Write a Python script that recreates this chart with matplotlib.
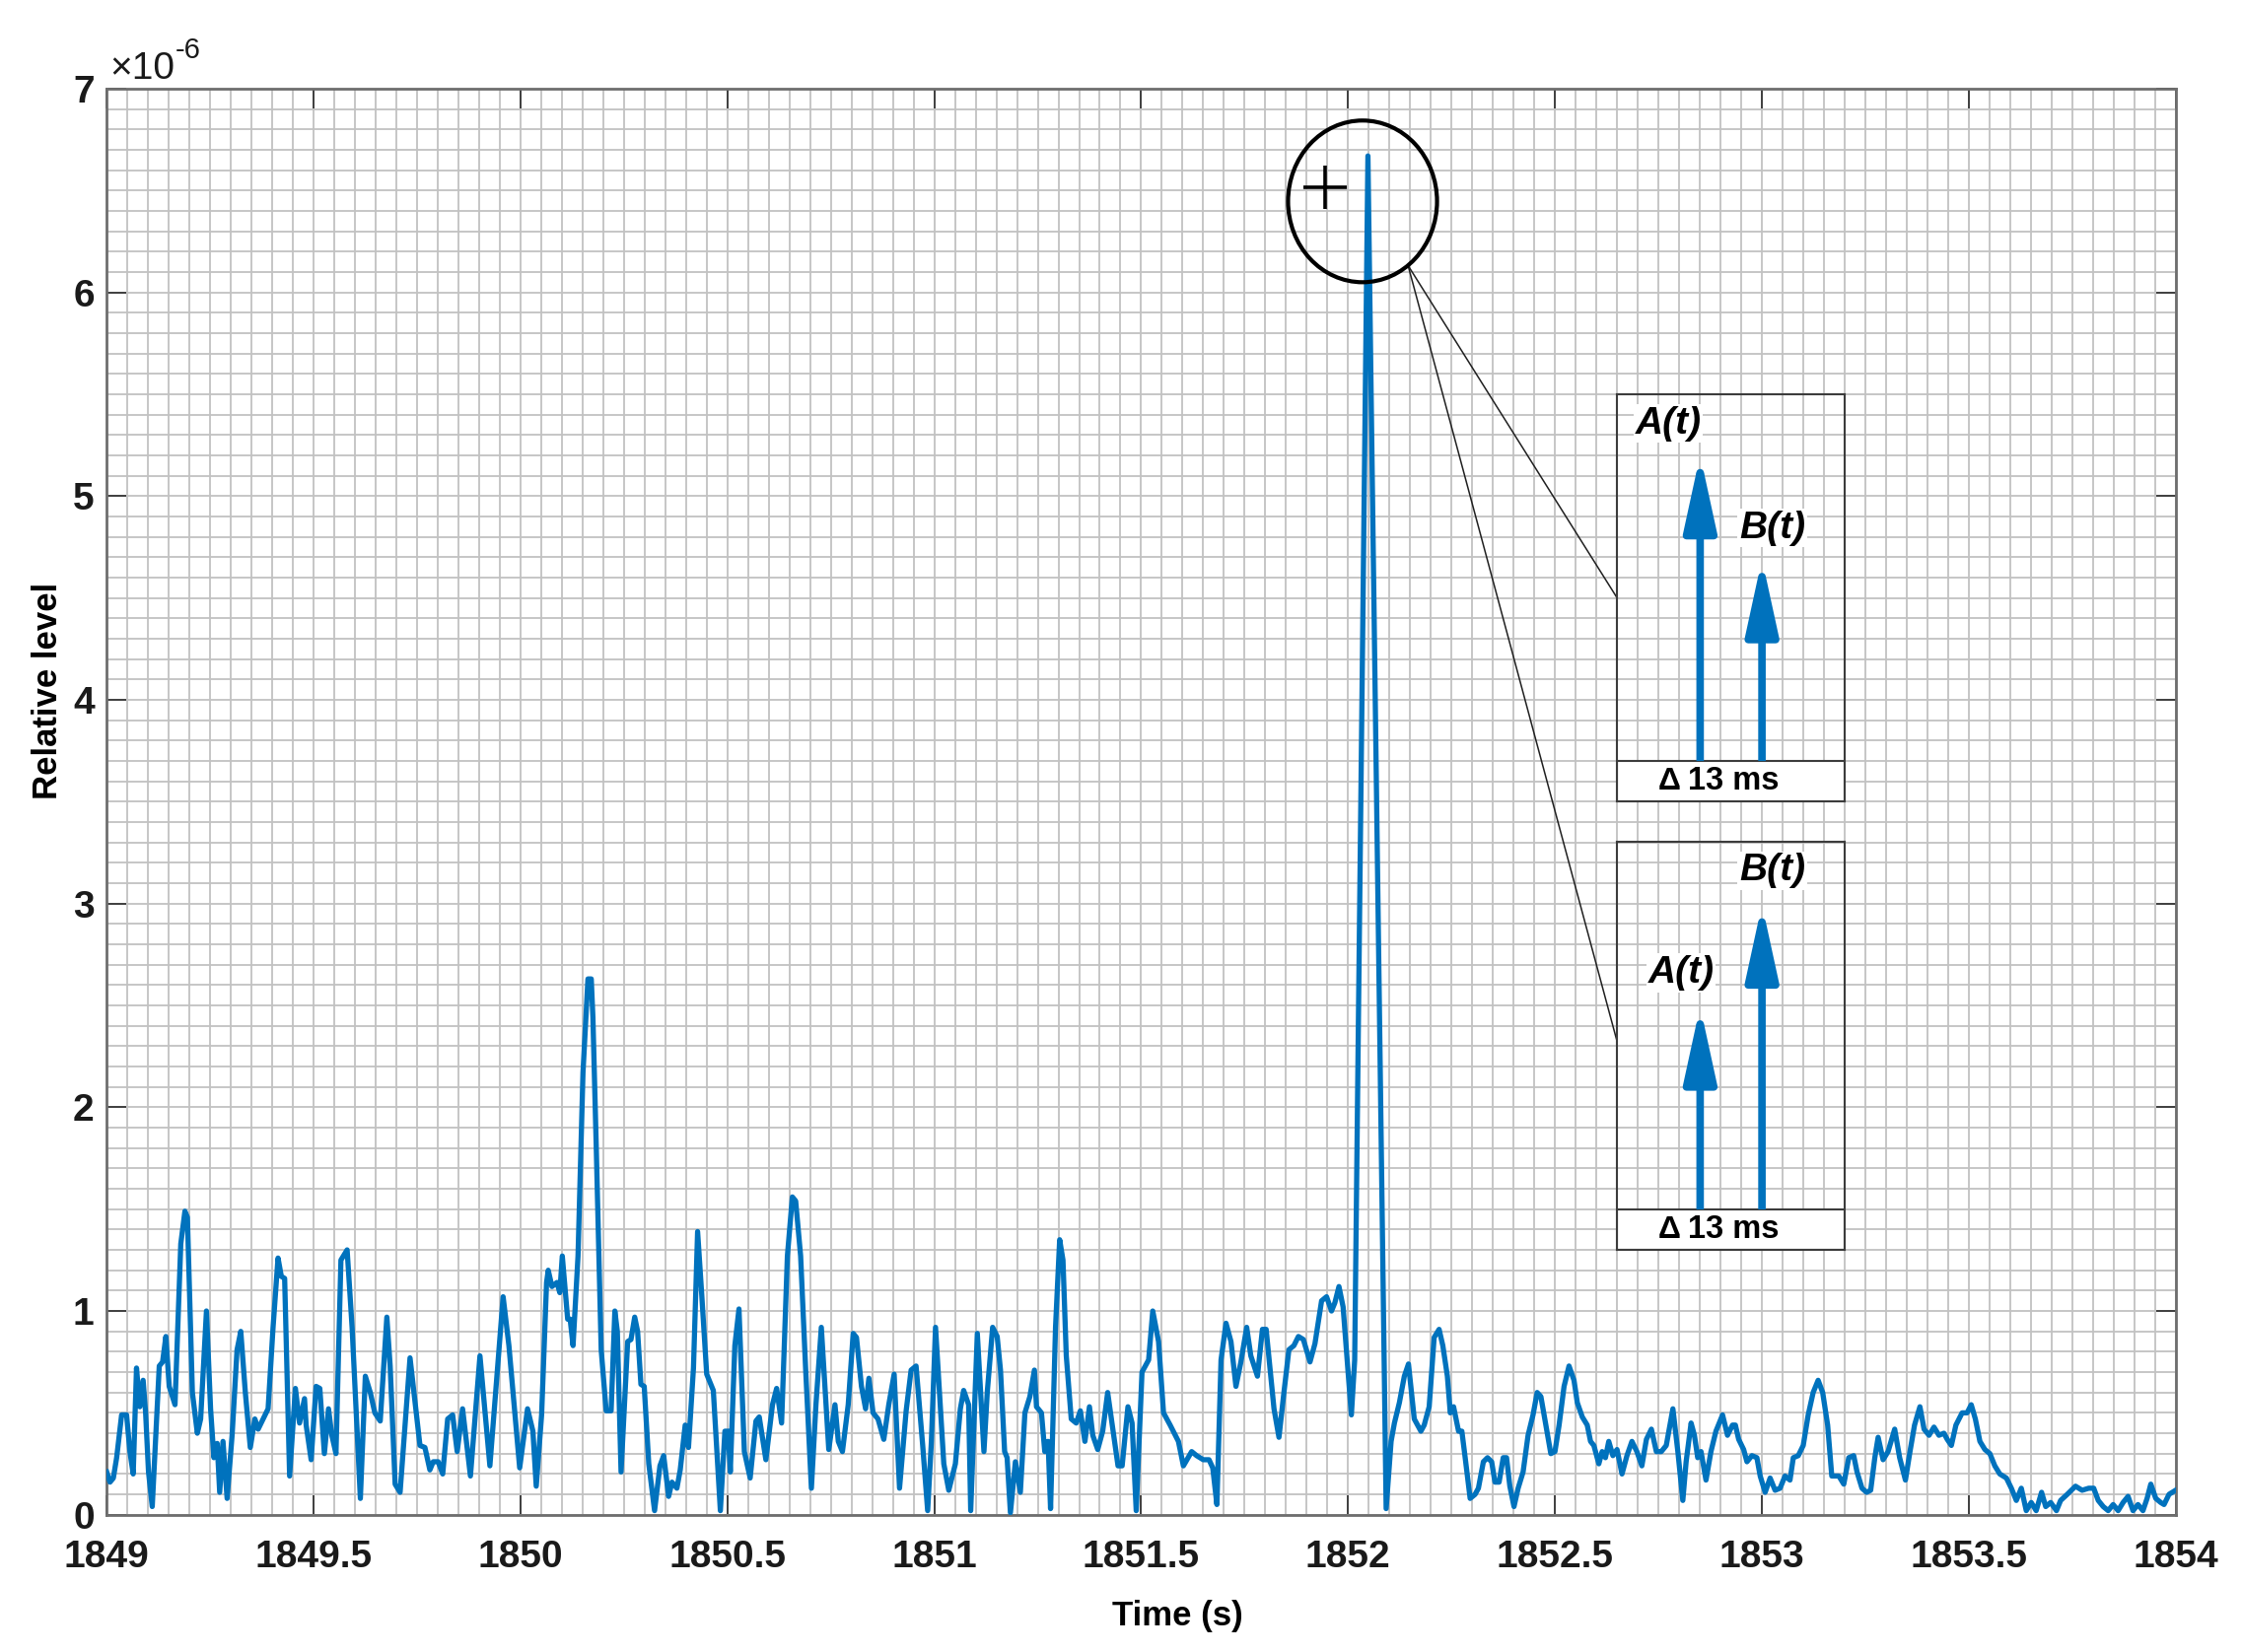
import matplotlib
matplotlib.use("Agg")
import matplotlib.pyplot as plt
from matplotlib.patches import Ellipse, Rectangle, FancyArrowPatch
from matplotlib.ticker import MultipleLocator
import numpy as np

plt.rcParams['font.family'] = ['Liberation Sans', 'DejaVu Sans']

# ---------------- data (level in 1e-6) -------------
t_a = [1849.000, 1849.008, 1849.016, 1849.024, 1849.036, 1849.048, 1849.056, 1849.064,
       1849.072, 1849.080, 1849.088, 1849.094, 1849.101, 1849.110, 1849.127, 1849.135,
       1849.143, 1849.151, 1849.165, 1849.179, 1849.189, 1849.195, 1849.207, 1849.219,
       1849.227, 1849.241, 1849.251, 1849.259, 1849.267, 1849.273, 1849.281, 1849.291,
       1849.303, 1849.315, 1849.324, 1849.335, 1849.347, 1849.358, 1849.366, 1849.378,
       1849.390, 1849.402, 1849.414, 1849.422, 1849.430, 1849.442, 1849.456, 1849.466,
       1849.478, 1849.482, 1849.494, 1849.506, 1849.515, 1849.526, 1849.536, 1849.544,
       1849.554, 1849.566, 1849.581, 1849.593, 1849.613, 1849.625, 1849.637, 1849.648,
       1849.661, 1849.677, 1849.685, 1849.697, 1849.709, 1849.733, 1849.757, 1849.769,
       1849.781, 1849.789, 1849.801, 1849.812, 1849.824, 1849.836, 1849.847, 1849.860,
       1849.879, 1849.902, 1849.926, 1849.958, 1849.972, 1849.998, 1850.017, 1850.030,
       1850.038, 1850.051, 1850.063]
v_a = [0.21, 0.16, 0.18, 0.28, 0.49, 0.49, 0.31, 0.20,
       0.72, 0.53, 0.66, 0.50, 0.21, 0.04, 0.73, 0.75,
       0.875, 0.63, 0.54, 1.33, 1.49, 1.46, 0.60, 0.40,
       0.47, 1.00, 0.52, 0.28, 0.35, 0.11, 0.36, 0.08,
       0.39, 0.81, 0.90, 0.60, 0.33, 0.47, 0.42, 0.47,
       0.52, 0.92, 1.26, 1.17, 1.16, 0.19, 0.62, 0.45,
       0.57, 0.44, 0.27, 0.63, 0.62, 0.30, 0.52, 0.39,
       0.30, 1.25, 1.30, 0.92, 0.08, 0.68, 0.60, 0.50,
       0.46, 0.97, 0.73, 0.15, 0.11, 0.77, 0.34, 0.33,
       0.22, 0.26, 0.26, 0.20, 0.47, 0.49, 0.31, 0.52,
       0.19, 0.78, 0.24, 1.07, 0.83, 0.23, 0.52, 0.41,
       0.14, 0.49, 1.14]

t_b = [1850.067, 1850.076, 1850.088, 1850.095, 1850.101, 1850.114, 1850.120, 1850.127,
       1850.139, 1850.151, 1850.163, 1850.171, 1850.175, 1850.183, 1850.195, 1850.207,
       1850.219, 1850.228, 1850.234, 1850.243, 1850.259, 1850.267, 1850.276, 1850.283,
       1850.291, 1850.299, 1850.310, 1850.324, 1850.337, 1850.346, 1850.358, 1850.366,
       1850.378, 1850.386, 1850.398, 1850.406, 1850.418, 1850.428, 1850.438, 1850.450,
       1850.466, 1850.483, 1850.494, 1850.502, 1850.507, 1850.518, 1850.528, 1850.541,
       1850.555, 1850.569, 1850.577, 1850.593, 1850.609, 1850.619, 1850.631, 1850.645,
       1850.657, 1850.665, 1850.677, 1850.689, 1850.703, 1850.714, 1850.727, 1850.745,
       1850.760, 1850.768, 1850.778, 1850.792, 1850.804, 1850.812, 1850.824, 1850.834,
       1850.842, 1850.852, 1850.864, 1850.878, 1850.890, 1850.903, 1850.916, 1850.932,
       1850.944, 1850.956, 1850.972, 1850.984, 1850.993, 1851.003, 1851.023, 1851.035,
       1851.051, 1851.063, 1851.071, 1851.083, 1851.088, 1851.104, 1851.120]
v_b = [1.20, 1.12, 1.14, 1.09, 1.27, 0.96, 0.96, 0.83,
       1.27, 2.17, 2.63, 2.63, 2.44, 1.81, 0.81, 0.51,
       0.51, 1.00, 0.90, 0.21, 0.85, 0.86, 0.97, 0.90,
       0.64, 0.63, 0.25, 0.02, 0.24, 0.29, 0.09, 0.16,
       0.13, 0.22, 0.44, 0.33, 0.72, 1.39, 1.08, 0.69,
       0.61, 0.02, 0.41, 0.41, 0.21, 0.83, 1.01, 0.31,
       0.18, 0.46, 0.48, 0.27, 0.54, 0.62, 0.45, 1.27,
       1.56, 1.54, 1.27, 0.72, 0.13, 0.54, 0.92, 0.32,
       0.54, 0.36, 0.31, 0.54, 0.89, 0.87, 0.63, 0.52,
       0.67, 0.50, 0.47, 0.37, 0.54, 0.69, 0.13, 0.51,
       0.71, 0.73, 0.34, 0.02, 0.36, 0.92, 0.25, 0.12,
       0.25, 0.52, 0.61, 0.54, 0.02, 0.89, 0.31]

t_c = [1851.128, 1851.141, 1851.152, 1851.160, 1851.170, 1851.176, 1851.184, 1851.196,
       1851.208, 1851.219, 1851.231, 1851.242, 1851.247, 1851.259, 1851.267, 1851.275,
       1851.281, 1851.293, 1851.303, 1851.311, 1851.319, 1851.331, 1851.343, 1851.353,
       1851.364, 1851.375, 1851.383, 1851.395, 1851.407, 1851.419, 1851.430, 1851.444,
       1851.454, 1851.468, 1851.478, 1851.488, 1851.502, 1851.518, 1851.528, 1851.542,
       1851.554, 1851.570, 1851.590, 1851.602, 1851.622, 1851.634, 1851.650, 1851.664,
       1851.673, 1851.683, 1851.693, 1851.705, 1851.717, 1851.729, 1851.741, 1851.755,
       1851.765, 1851.781, 1851.793, 1851.802, 1851.821, 1851.833, 1851.845, 1851.857,
       1851.869, 1851.880, 1851.892, 1851.908, 1851.920, 1851.936, 1851.948, 1851.960,
       1851.968, 1851.978, 1851.988, 1852.008, 1852.016, 1852.048, 1852.092, 1852.104,
       1852.112, 1852.124, 1852.136, 1852.146]
v_c = [0.60, 0.92, 0.875, 0.71, 0.31, 0.28, 0.01, 0.26,
       0.11, 0.50, 0.58, 0.71, 0.53, 0.50, 0.31, 0.36,
       0.03, 0.92, 1.35, 1.25, 0.78, 0.47, 0.45, 0.51,
       0.36, 0.53, 0.39, 0.32, 0.41, 0.60, 0.44, 0.24,
       0.24, 0.53, 0.45, 0.02, 0.70, 0.76, 1.00, 0.85,
       0.50, 0.44, 0.36, 0.24, 0.31, 0.29, 0.27, 0.27,
       0.23, 0.05, 0.76, 0.94, 0.85, 0.63, 0.75, 0.92,
       0.78, 0.68, 0.91, 0.91, 0.52, 0.38, 0.60, 0.81,
       0.83, 0.875, 0.86, 0.75, 0.84, 1.05, 1.07, 1.00,
       1.04, 1.12, 1.02, 0.49, 0.76, 6.67, 0.03, 0.36,
       0.45, 0.55, 0.68, 0.74]

t_d = [1852.160, 1852.176, 1852.184, 1852.196, 1852.208, 1852.220, 1852.229, 1852.240,
       1852.247, 1852.255, 1852.267, 1852.275, 1852.283, 1852.295, 1852.307, 1852.315,
       1852.327, 1852.337, 1852.347, 1852.355, 1852.365, 1852.375, 1852.383, 1852.391,
       1852.401, 1852.411, 1852.423, 1852.435, 1852.447, 1852.457, 1852.466, 1852.478,
       1852.490, 1852.500, 1852.510, 1852.522, 1852.534, 1852.546, 1852.554, 1852.566,
       1852.578, 1852.586, 1852.594, 1852.606, 1852.614, 1852.622, 1852.630, 1852.640,
       1852.650, 1852.662, 1852.674, 1852.686, 1852.698, 1852.710, 1852.721, 1852.733,
       1852.745, 1852.757, 1852.769, 1852.785, 1852.797, 1852.809, 1852.817, 1852.829,
       1852.837, 1852.845, 1852.853, 1852.865, 1852.877, 1852.889, 1852.905, 1852.917,
       1852.929, 1852.936, 1852.944, 1852.956, 1852.964, 1852.976, 1852.988, 1852.996,
       1853.008, 1853.020, 1853.032, 1853.044, 1853.056, 1853.068, 1853.076, 1853.088,
       1853.100, 1853.112, 1853.124, 1853.136, 1853.147, 1853.159, 1853.169]
v_d = [0.47, 0.41, 0.44, 0.53, 0.87, 0.91, 0.83, 0.68,
       0.50, 0.53, 0.41, 0.41, 0.28, 0.08, 0.10, 0.13,
       0.26, 0.28, 0.26, 0.16, 0.16, 0.28, 0.28, 0.14,
       0.04, 0.13, 0.21, 0.39, 0.49, 0.60, 0.58, 0.44,
       0.30, 0.31, 0.44, 0.63, 0.73, 0.66, 0.55, 0.48,
       0.44, 0.36, 0.34, 0.25, 0.31, 0.28, 0.36, 0.29,
       0.32, 0.20, 0.29, 0.36, 0.31, 0.24, 0.37, 0.42,
       0.31, 0.31, 0.34, 0.52, 0.31, 0.07, 0.26, 0.45,
       0.39, 0.28, 0.31, 0.17, 0.31, 0.41, 0.49, 0.39,
       0.44, 0.44, 0.37, 0.32, 0.26, 0.29, 0.28, 0.19,
       0.11, 0.18, 0.12, 0.13, 0.19, 0.17, 0.28, 0.29,
       0.34, 0.49, 0.60, 0.66, 0.60, 0.44, 0.19]

t_e = [1853.180, 1853.186, 1853.198, 1853.210, 1853.222, 1853.230, 1853.242, 1853.253,
       1853.263, 1853.273, 1853.281, 1853.293, 1853.305, 1853.321, 1853.333, 1853.347,
       1853.358, 1853.369, 1853.382, 1853.392, 1853.404, 1853.416, 1853.428, 1853.440,
       1853.448, 1853.458, 1853.469, 1853.484, 1853.496, 1853.506, 1853.516, 1853.527,
       1853.539, 1853.551, 1853.563, 1853.575, 1853.591, 1853.603, 1853.615, 1853.627,
       1853.639, 1853.651, 1853.663, 1853.676, 1853.686, 1853.698, 1853.712, 1853.722,
       1853.738, 1853.758, 1853.774, 1853.790, 1853.802, 1853.813, 1853.825, 1853.837,
       1853.849, 1853.861, 1853.873, 1853.885, 1853.897, 1853.909, 1853.921, 1853.931,
       1853.940, 1853.952, 1853.964, 1853.972, 1853.984, 1854.000]
v_e = [0.19, 0.19, 0.15, 0.28, 0.29, 0.21, 0.13, 0.11,
       0.12, 0.28, 0.38, 0.27, 0.31, 0.42, 0.28, 0.17,
       0.31, 0.44, 0.53, 0.42, 0.39, 0.43, 0.39, 0.40,
       0.37, 0.34, 0.44, 0.50, 0.50, 0.54, 0.47, 0.36,
       0.32, 0.30, 0.24, 0.20, 0.18, 0.13, 0.07, 0.13,
       0.02, 0.06, 0.02, 0.11, 0.04, 0.06, 0.02, 0.07,
       0.10, 0.14, 0.12, 0.13, 0.13, 0.07, 0.04, 0.02,
       0.05, 0.02, 0.06, 0.09, 0.02, 0.05, 0.02, 0.08,
       0.15, 0.08, 0.06, 0.05, 0.10, 0.12]

x_ticks = [1849, 1849.5, 1850, 1850.5, 1851, 1851.5, 1852, 1852.5, 1853, 1853.5, 1854]
x_tick_labels = ['1849', '1849.5', '1850', '1850.5', '1851', '1851.5', '1852',
                 '1852.5', '1853', '1853.5', '1854']
y_ticks = [0, 1, 2, 3, 4, 5, 6, 7]

# inset arrow heights (fraction of the inset box)
inset_top_heights = {'A(t)': 0.86, 'B(t)': 0.605}
inset_bottom_heights = {'A(t)': 0.607, 'B(t)': 0.857}
delta_label = '13 ms'

# ---------------- figure ----------------
BLUE = '#0072BD'
W, H = 2274, 1676
fig = plt.figure(figsize=(W / 100, H / 100), dpi=100)
ax = fig.add_axes([0.0476, 0.0831, 0.9228, 0.8632])

time_s = np.array(t_a + t_b + t_c + t_d + t_e)
level = np.array(v_a + v_b + v_c + v_d + v_e) * 1e-6
ax.plot(time_s, level, color=BLUE, lw=3.8, zorder=3, solid_joinstyle='round')

ax.set_xlim(1849, 1854)
ax.set_ylim(0, 7e-6)
ax.set_xticks(x_ticks)
ax.set_xticklabels(x_tick_labels)
ax.set_yticks([y * 1e-6 for y in y_ticks])
ax.set_yticklabels([str(y) for y in y_ticks])
ax.xaxis.set_minor_locator(MultipleLocator(0.05))
ax.yaxis.set_minor_locator(MultipleLocator(0.1e-6))

gridc = '#c2c2c2'
ax.grid(True, which='major', color=gridc, lw=1.3, zorder=0)
ax.grid(True, which='minor', color=gridc, lw=1.3, zorder=0)
ax.set_axisbelow(True)

ax.tick_params(which='major', direction='in', length=14.5, width=1.4,
               color='#404040', top=True, right=True, labelsize=28,
               labelcolor='#1a1a1a')
ax.tick_params(axis='x', which='major', pad=18)
ax.tick_params(axis='y', which='major', pad=9)
ax.tick_params(which='minor', length=0, top=True, right=True)
for lab in ax.get_xticklabels() + ax.get_yticklabels():
    lab.set_fontweight('bold')
for s in ax.spines.values():
    s.set_color('#6e6e6e')
    s.set_linewidth(2.0)

ax.set_xlabel('Time (s)', fontsize=25, fontweight='bold', color='black')
ax.xaxis.set_label_coords(0.5174, -0.071)
ax.xaxis.label.set_va('center')
ax.set_ylabel('Relative level', fontsize=25, fontweight='bold', color='black')
ax.yaxis.set_label_coords(-0.0287, 0.578)
ax.yaxis.label.set_va('center')

# exponent label
ax.text(0.0013, 1.0069, '\u00d710', transform=ax.transAxes, fontsize=28,
        ha='left', va='baseline', color='#1a1a1a', clip_on=False)
ax.text(0.0330, 1.0215, '-6', transform=ax.transAxes, fontsize=21,
        ha='left', va='baseline', color='#1a1a1a', clip_on=False)

# circle around the peak with a plus sign
ax.add_patch(Ellipse((0.607, 0.921), 0.072, 0.1134, transform=ax.transAxes,
                     fill=False, edgecolor='black', lw=3.0, zorder=5, clip_on=False))
ax.plot([0.589], [0.931], marker='+', markersize=32, mew=2.6, color='black',
        transform=ax.transAxes, zorder=5, clip_on=False)

# connector lines
ax.plot([0.629, 0.730], [0.876, 0.643], color='#202020', lw=1.1,
        transform=ax.transAxes, zorder=4, clip_on=False)
ax.plot([0.629, 0.730], [0.876, 0.332], color='#202020', lw=1.1,
        transform=ax.transAxes, zorder=4, clip_on=False)


def make_inset(rect, heights, label_pos):
    ins = fig.add_axes(rect)
    ins.set_facecolor('none')
    ins.set_xlim(0, 1)
    ins.set_ylim(0, 1)
    ins.set_xticks([])
    ins.set_yticks([])
    for s in ins.spines.values():
        s.set_color('#3c3c3c')
        s.set_linewidth(1.5)
    strip = 0.099
    ins.add_patch(Rectangle((0, 0), 1, strip, transform=ins.transAxes,
                            facecolor='white', edgecolor='#3c3c3c', lw=1.5))
    xs = {'A(t)': 0.366, 'B(t)': 0.638}
    for name, h in heights.items():
        arr = FancyArrowPatch((xs[name], strip), (xs[name], h - 0.01),
                              transform=ins.transAxes,
                              arrowstyle='-|>,head_length=46,head_width=10',
                              mutation_scale=1, color=BLUE, lw=5.5,
                              shrinkA=0, shrinkB=0, joinstyle='round',
                              capstyle='butt')
        ins.add_patch(arr)
        lx, ly = label_pos[name]
        ins.text(lx, ly, name, transform=ins.transAxes, fontsize=28,
                 fontweight='bold', fontstyle='italic', ha='center', va='center',
                 color='black',
                 bbox=dict(facecolor='white', edgecolor='none', pad=1.0))
    ins.text(0.181, strip / 2, '\u0394', transform=ins.transAxes, fontsize=23,
             fontweight='bold', ha='left', va='center', color='black')
    ins.text(0.311, strip / 2, delta_label, transform=ins.transAxes, fontsize=23.5,
             fontweight='bold', ha='left', va='center', color='black')
    return ins


make_inset([0.7212, 0.5149, 0.1014, 0.2467], inset_top_heights,
           {'A(t)': (0.226, 0.927), 'B(t)': (0.683, 0.671)})
make_inset([0.7212, 0.2434, 0.1014, 0.2470], inset_bottom_heights,
           {'A(t)': (0.283, 0.679), 'B(t)': (0.683, 0.930)})

fig.savefig('out.png', dpi=100, facecolor='white')
